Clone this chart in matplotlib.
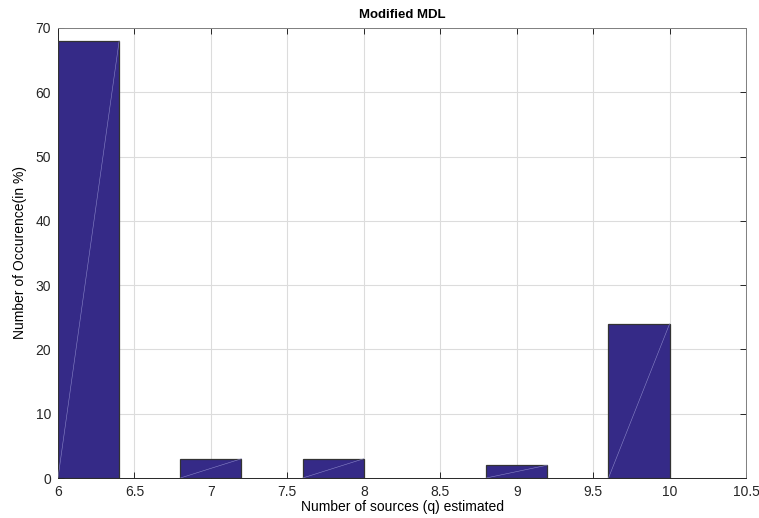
import matplotlib
matplotlib.use('Agg')
from matplotlib import pyplot as plt

# histogram bins (left edge, right edge) and their heights in %
bin_left = [6.0, 6.8, 7.6, 8.8, 9.6]
bin_right = [6.4, 7.2, 8.0, 9.2, 10.0]
occurence = [68, 3, 3, 2, 24]

x_ticks = [6, 6.5, 7, 7.5, 8, 8.5, 9, 9.5, 10, 10.5]
y_ticks = [0, 10, 20, 30, 40, 50, 60, 70]

plt.rcParams['font.family'] = ['Liberation Sans', 'DejaVu Sans']

fig = plt.figure(figsize=(7.59, 5.18), dpi=100)
ax = fig.add_axes([0.0764, 0.0772, 0.9066, 0.8688])

widths = [r - l for l, r in zip(bin_left, bin_right)]
ax.bar(bin_left, occurence, width=widths, align='edge', color='#352a87',
       edgecolor='#333333', linewidth=0.9, zorder=3)
# faint triangulation diagonal seen in the original export
for l, r, h in zip(bin_left, bin_right, occurence):
    ax.plot([l, r], [0, h], color='#8a86c8', linewidth=0.4, zorder=4)

ax.set_xlim(6, 10.5)
ax.set_ylim(0, 70)
ax.set_xticks(x_ticks)
ax.set_xticklabels([f'{t:g}' for t in x_ticks])
ax.set_yticks(y_ticks)
ax.grid(True, color='#dcdcdc', linewidth=0.8, zorder=0)
ax.set_axisbelow(True)
ax.tick_params(direction='in', top=True, right=True, length=4, width=0.7,
               labelsize=10, colors='#262626', pad=5)
for s in ax.spines.values():
    s.set_color('#262626')
    s.set_linewidth(0.7)
ax.spines['top'].set_color('#7f7f7f')
ax.spines['right'].set_color('#7f7f7f')

ax.set_title('Modified MDL', fontsize=9.5, fontweight='bold', pad=7)
ax.set_xlabel('Number of sources (q) estimated', fontsize=10, labelpad=1)
ax.set_ylabel('Number of Occurence(in %)', fontsize=10, labelpad=6)

plt.savefig('out.png', dpi=100)
